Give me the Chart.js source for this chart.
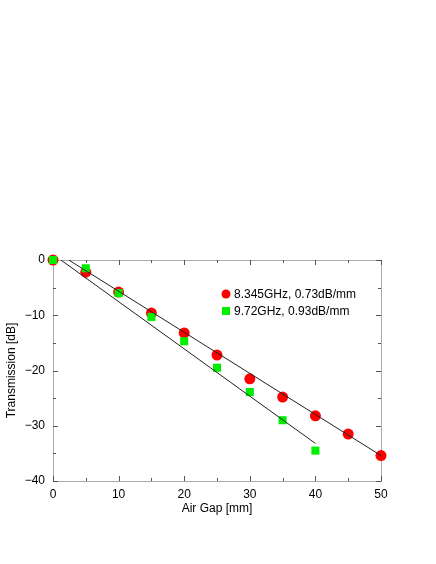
<!DOCTYPE html>
<html>
<head>
<meta charset="utf-8">
<script src="https://cdn.jsdelivr.net/npm/chart.js@4"></script>
<style>
body{margin:0;background:#fff;}
#wrap{width:436px;height:564px;}
</style>
</head>
<body>
<div id="wrap"><canvas id="myChart" width="436" height="564"></canvas></div>
<script>
var gapMm=[0,5,10,15,20,25,30,35,40,45,50];
var red8345=[0,-2.2,-5.8,-9.6,-13.2,-17.2,-21.5,-24.8,-28.2,-31.5,-35.4];
var gapGreen=[0,5,10,15,20,25,30,35,40];
var green972=[0,-1.5,-6.0,-10.3,-14.7,-19.5,-23.9,-29.0,-34.5];
var redFitX=[2.4,50];
var redFitY=[0,-35.4];
var greenFitX=[1.2,40];
var greenFitY=[0,-33.2];
var xTicks=[0,10,20,30,40,50];
var yTicks=[0,-10,-20,-30,-40];

function pts(xs,ys){
var out=[];
for(var i=0;i<xs.length;i++){out.push({x:xs[i],y:ys[i]});}
return out;
}

var FONT='"Liberation Sans", Arial, sans-serif';

var redSet={
label:"8.345GHz, 0.73dB/mm",
data:pts(gapMm,red8345),
backgroundColor:'#ff0000',
borderColor:'#ff0000',
pointStyle:'circle',
pointRadius:5.5,
borderWidth:0,
showLine:false,
clip:false,
order:3
};
var greenSet={
label:"9.72GHz, 0.93dB/mm",
data:pts(gapGreen,green972),
backgroundColor:'#00ee00',
borderColor:'#00ee00',
pointStyle:'rect',
pointRadius:5.7,
borderWidth:0,
showLine:false,
clip:false,
order:2
};
var redFit={
label:"fit1",
data:pts(redFitX,redFitY),
borderColor:'#222',
borderWidth:1,
pointRadius:0,
showLine:true,
order:1
};
var greenFit={
label:"fit2",
data:pts(greenFitX,greenFitY),
borderColor:'#222',
borderWidth:1,
pointRadius:0,
showLine:true,
order:1
};

// frame, inward ticks and in-plot legend
var framePlugin={
id:'frame',
beforeDatasetsDraw:function(chart){
var c=chart.ctx,a=chart.chartArea,xs=chart.scales.x,ys=chart.scales.y;
c.save();
c.strokeStyle='#aaa';
c.lineWidth=1;
c.strokeRect(a.left+0.5,a.top+0.5,a.right-a.left,a.bottom-a.top);
c.strokeStyle='#555';
var v,p,len;
for(v=0;v<=50;v+=5){
p=Math.round(xs.getPixelForValue(v))+0.5;
len=(v%10===0)?5:3;
c.beginPath();
c.moveTo(p,a.bottom);c.lineTo(p,a.bottom-len);
c.moveTo(p,a.top);c.lineTo(p,a.top+len);
c.stroke();
}
for(v=0;v>=-40;v-=5){
p=Math.round(ys.getPixelForValue(v))+0.5;
len=(v%10===0)?5:3;
c.beginPath();
c.moveTo(a.left,p);c.lineTo(a.left+len,p);
c.moveTo(a.right,p);c.lineTo(a.right-len,p);
c.stroke();
}
// legend
var lx=226,ly=[294,311];
var sets=[redSet,greenSet];
c.font='12px '+FONT;
c.textBaseline='middle';
for(var i=0;i<2;i++){
c.fillStyle=sets[i].backgroundColor;
if(i===0){
c.beginPath();c.arc(lx,ly[i],4.5,0,Math.PI*2);c.fill();
}else{
c.fillRect(lx-4,ly[i]-4,8,8);
}
c.fillStyle='#000';
c.fillText(sets[i].label,lx+8,ly[i]+1);
}
c.restore();
}
};

var ctx=document.getElementById("myChart").getContext('2d');
var chart=new Chart(ctx,{
type:'scatter',
data:{datasets:[redSet,greenSet,redFit,greenFit]},
options:{
responsive:false,
animation:false,
layout:{padding:{left:0,top:260,right:55,bottom:48}},
plugins:{legend:{display:false},tooltip:{enabled:false}},
scales:{
x:{
type:'linear',min:0,max:50,
afterFit:function(s){s.height=35;},
afterBuildTicks:function(s){s.ticks=xTicks.map(function(v){return {value:v};});},
grid:{display:false,drawTicks:false},
border:{display:false},
ticks:{color:'#000',font:{size:12,family:FONT},padding:6,maxRotation:0},
title:{display:true,text:'Air Gap [mm]',color:'#000',font:{size:12,family:FONT},padding:{top:1,bottom:0}}
},
y:{
type:'linear',min:-40,max:0,
afterFit:function(s){s.width=53;},
afterBuildTicks:function(s){s.ticks=yTicks.map(function(v){return {value:v};});},
grid:{display:false,drawTicks:false},
border:{display:false},
ticks:{color:'#000',font:{size:12,family:FONT},padding:8,
callback:function(v){return v<0?'\u2212'+Math.abs(v):String(v);}},
title:{display:true,text:'Transmission [dB]',color:'#000',font:{size:12,family:FONT},padding:{bottom:2}}
}
}
},
plugins:[framePlugin]
});
</script>
</body>
</html>
